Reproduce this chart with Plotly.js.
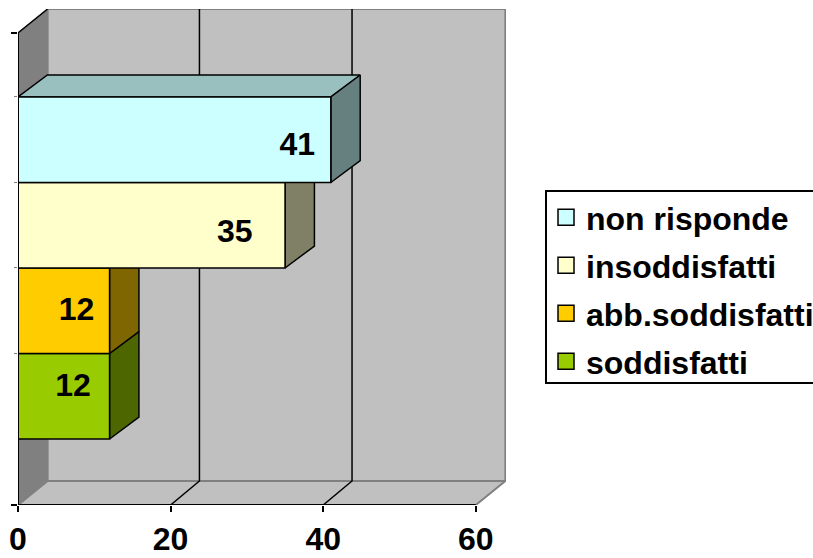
<!DOCTYPE html>
<html>
<head>
<meta charset="utf-8">
<script src="https://cdn.plot.ly/plotly-3.0.1.min.js"></script>
<style>html,body{margin:0;padding:0;background:#fff}</style>
</head>
<body>
<div id="chart" style="width:813px;height:558px"></div>
<script>
// Data (bottom to top)
const categories = ["soddisfatti", "abb.soddisfatti", "insoddisfatti", "non risponde"];
const values = [12, 12, 35, 41];
const xTicks = [0, 20, 40, 60];

// Styles
const frontColors = ["#99CC00", "#FFCC00", "#FFFFCC", "#CCFFFF"];
const sideColors = ["#4D6600", "#806600", "#808066", "#668080"];
const topColors = ["#739900", "#BF9900", "#BFBF99", "#99BFBF"];

// Geometry in axis units
const xMax = 63.96, yMin = -0.272, yMax = 5.529, bandHalf = 0.5;
const wallDx = 3.88, wallDy = 0.281, barDx = 3.85, barDy = 0.257, gridDx = 3.78;
const xEnd = 60;
const bandPos = categories.map((_, i) => i + 1);
const labelPosX = [7.2, 7.67, 28.4, 36.6];
const labelPosY = [1.10, 1.98, 2.90, 3.91];

function poly(xs, ys, fill, lineColor, lineWidth) {
  return {
    type: "scatter", mode: "lines", x: xs, y: ys, xaxis: "x", yaxis: "y",
    fill: fill ? "toself" : "none", fillcolor: fill || undefined,
    line: { color: lineColor, width: lineWidth }, cliponaxis: false,
    showlegend: false, hoverinfo: "skip"
  };
}

const traces = [];
// Back wall, left wall, floor
traces.push(poly([wallDx, xEnd + wallDx, xEnd + wallDx, wallDx, wallDx],
  [yMin + wallDy, yMin + wallDy, yMax, yMax, yMin + wallDy], "#C0C0C0", "#808080", 2));
traces.push(poly([0, wallDx, wallDx, 0, 0],
  [yMin, yMin + wallDy, yMax, yMax - wallDy, yMin], "#808080", "#808080", 1));
traces.push(poly([0, xEnd, xEnd + wallDx, wallDx, 0],
  [yMin, yMin, yMin + wallDy, yMin + wallDy, yMin], "#C0C0C0", "#808080", 2));
// Gridlines on the wall and floor
[xTicks[1], xTicks[2]].forEach(t => {
  traces.push(poly([t, t + gridDx, t + gridDx], [yMin, yMin + wallDy, yMax], null, "#000000", 1.5));
});
// Top-left wall edge
traces.push(poly([0, wallDx], [yMax - wallDy, yMax], null, "#000000", 1.5));

// Top and side faces of each bar
values.forEach((v, i) => {
  const lo = bandPos[i] - bandHalf, hi = bandPos[i] + bandHalf;
  traces.push(poly([0, barDx, v + barDx, v, 0], [hi, hi + barDy, hi + barDy, hi, hi], topColors[i], "#000000", 1.5));
  traces.push(poly([v, v + barDx, v + barDx, v, v], [lo, lo + barDy, hi + barDy, hi, lo], sideColors[i], "#000000", 1.5));
});

// Front faces on an overlay subplot so they cover the depth faces
values.forEach((v, i) => {
  traces.push({
    type: "bar", orientation: "h", x: [v], y: [bandPos[i]], width: 1,
    xaxis: "x2", yaxis: "y2", name: categories[i], showlegend: false,
    marker: { color: frontColors[i], line: { color: "#000000", width: 1.5 } },
    hovertemplate: categories[i] + ": %{x}<extra></extra>"
  });
});

// Value axis base line, category axis line and labels
traces.push({ type: "scatter", mode: "lines", x: [0, xEnd], y: [yMin, yMin], xaxis: "x2", yaxis: "y2",
  line: { color: "#000000", width: 2 }, cliponaxis: false, showlegend: false, hoverinfo: "skip" });
traces.push({ type: "scatter", mode: "lines", x: [0, 0], y: [yMin, yMax - wallDy], xaxis: "x2", yaxis: "y2",
  line: { color: "#000000", width: 2 }, cliponaxis: false, showlegend: false, hoverinfo: "skip" });
traces.push({ type: "scatter", mode: "text", x: labelPosX, y: labelPosY, text: values.map(String),
  xaxis: "x2", yaxis: "y2", textposition: "middle center",
  textfont: { family: "Liberation Sans, Arial, sans-serif", size: 32, color: "#000000", weight: 700 },
  showlegend: false, hoverinfo: "skip" });

// Legend entries, top to bottom
for (let i = categories.length - 1; i >= 0; i--) {
  traces.push({
    type: "scatter", mode: "markers", x: [null], y: [null], xaxis: "x2", yaxis: "y2",
    name: categories[i], legendgroup: categories[i], showlegend: true,
    marker: { symbol: "square", size: 16, color: frontColors[i], line: { color: "#000000", width: 1.5 } }
  });
}

// Legend frame, in paper units of the plot area (left 18, width 488, top 9, height 496)
const legendFrame = { left: (546 - 18) / 488, right: (815 - 18) / 488, top: (505 - 191) / 496, bottom: (505 - 383) / 496 };

const layout = {
  width: 813, height: 558,
  margin: { l: 18, r: 307, t: 9, b: 53, autoexpand: false },
  paper_bgcolor: "#ffffff", plot_bgcolor: "rgba(0,0,0,0)",
  barmode: "overlay", showlegend: true,
  font: { family: "Liberation Sans, Arial, sans-serif", color: "#000000" },
  shapes: [{
    type: "rect", xref: "paper", yref: "paper", layer: "below",
    x0: legendFrame.left, x1: legendFrame.right, y0: legendFrame.bottom, y1: legendFrame.top,
    fillcolor: "#ffffff", line: { color: "#000000", width: 2 }
  }],
  xaxis: {
    range: [0, xMax], tickmode: "array", tickvals: xTicks, ticktext: xTicks.map(String),
    ticks: "outside", ticklen: 6, tickwidth: 1.5, tickcolor: "#000000", ticklabelstandoff: 0,
    showgrid: false, zeroline: false, showline: false,
    tickfont: { family: "Liberation Sans, Arial, sans-serif", size: 32, color: "#000000", weight: 700 }
  },
  yaxis: {
    range: [yMin, yMax], tickmode: "array", tickvals: [yMin, yMax - wallDy], showticklabels: false,
    ticks: "outside", ticklen: 6, tickwidth: 1.5, tickcolor: "#000000",
    minor: { tickmode: "array", tickvals: [1.5, 2.5, 3.5, 4.5], ticks: "outside", ticklen: 3, tickwidth: 1, tickcolor: "#808080", showgrid: false },
    showgrid: false, zeroline: false, showline: false
  },
  xaxis2: { overlaying: "x", range: [0, xMax], visible: false, anchor: "y2" },
  yaxis2: { overlaying: "y", range: [yMin, yMax], visible: false, anchor: "x2" },
  legend: {
    xref: "container", yref: "container", x: 546 / 813, y: 1 - 190 / 558,
    xanchor: "left", yanchor: "top",
    bgcolor: "rgba(0,0,0,0)", borderwidth: 0,
    traceorder: "grouped", tracegroupgap: 3.4, itemsizing: "trace",
    font: { family: "Liberation Sans, Arial, sans-serif", size: 32, color: "#000000", weight: 700 }
  }
};

Plotly.newPlot("chart", traces, layout, { displayModeBar: false, responsive: false });
</script>
</body>
</html>
